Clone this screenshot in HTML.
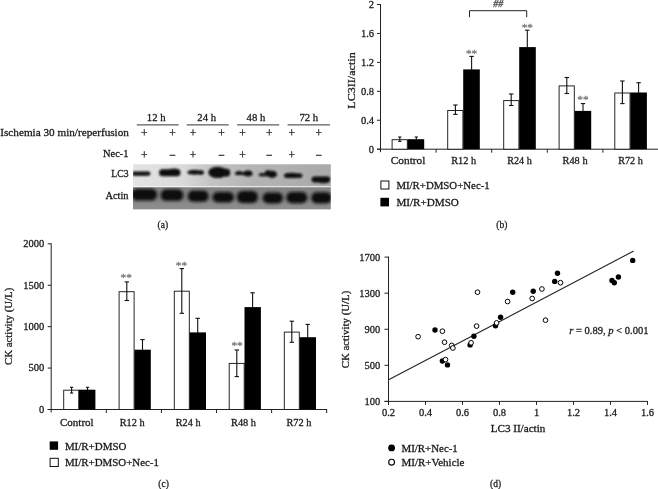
<!DOCTYPE html>
<html><head><meta charset="utf-8"><title>Figure</title>
<style>
html,body{margin:0;padding:0;background:#fff;}
body{width:658px;height:489px;overflow:hidden;font-family:"Liberation Serif",serif;}
svg{display:block;font-family:"Liberation Serif",serif;will-change:transform;-webkit-font-smoothing:antialiased;}
</style></head><body>
<svg width="658" height="489" viewBox="0 0 658 489">
<rect width="658" height="489" fill="#fff"/>
<g id="pa">
<text x="128.9" y="136" font-size="10.5" text-anchor="end" fill="#1a1a1a" stroke="#1a1a1a" stroke-width="0.28" textLength="128.6" lengthAdjust="spacingAndGlyphs">Ischemia 30 min/reperfusion</text>
<text x="128.6" y="157" font-size="10.5" text-anchor="end" fill="#1a1a1a" stroke="#1a1a1a" stroke-width="0.28" textLength="25.6" lengthAdjust="spacingAndGlyphs">Nec-1</text>
<text x="128.6" y="177.3" font-size="10.5" text-anchor="end" fill="#1a1a1a" stroke="#1a1a1a" stroke-width="0.28" textLength="17.3" lengthAdjust="spacingAndGlyphs">LC3</text>
<text x="128.6" y="198.7" font-size="10.5" text-anchor="end" fill="#1a1a1a" stroke="#1a1a1a" stroke-width="0.28" textLength="23.2" lengthAdjust="spacingAndGlyphs">Actin</text>
<line x1="136.8" y1="124.9" x2="178.6" y2="124.9" stroke="#333" stroke-width="1"/>
<text x="156.2" y="120.8" font-size="10.5" text-anchor="middle" fill="#1a1a1a" stroke="#1a1a1a" stroke-width="0.28" textLength="18.7" lengthAdjust="spacingAndGlyphs">12 h</text>
<line x1="186.7" y1="124.9" x2="228.7" y2="124.9" stroke="#333" stroke-width="1"/>
<text x="206.7" y="120.8" font-size="10.5" text-anchor="middle" fill="#1a1a1a" stroke="#1a1a1a" stroke-width="0.28" textLength="18.7" lengthAdjust="spacingAndGlyphs">24 h</text>
<line x1="237.1" y1="124.9" x2="279.2" y2="124.9" stroke="#333" stroke-width="1"/>
<text x="255.9" y="120.8" font-size="10.5" text-anchor="middle" fill="#1a1a1a" stroke="#1a1a1a" stroke-width="0.28" textLength="18.7" lengthAdjust="spacingAndGlyphs">48 h</text>
<line x1="287.6" y1="124.9" x2="330" y2="124.9" stroke="#333" stroke-width="1"/>
<text x="308.8" y="120.8" font-size="10.5" text-anchor="middle" fill="#1a1a1a" stroke="#1a1a1a" stroke-width="0.28" textLength="18.7" lengthAdjust="spacingAndGlyphs">72 h</text>
<text x="144.3" y="137" font-size="11.5" text-anchor="middle" fill="#1a1a1a" stroke="#1a1a1a" stroke-width="0.28">+</text>
<text x="144.3" y="158.6" font-size="11.5" text-anchor="middle" fill="#1a1a1a" stroke="#1a1a1a" stroke-width="0.28">+</text>
<text x="172.4" y="137" font-size="11.5" text-anchor="middle" fill="#1a1a1a" stroke="#1a1a1a" stroke-width="0.28">+</text>
<text x="172.4" y="158.6" font-size="11.5" text-anchor="middle" fill="#1a1a1a" stroke="#1a1a1a" stroke-width="0.28">−</text>
<text x="192.9" y="137" font-size="11.5" text-anchor="middle" fill="#1a1a1a" stroke="#1a1a1a" stroke-width="0.28">+</text>
<text x="192.9" y="158.6" font-size="11.5" text-anchor="middle" fill="#1a1a1a" stroke="#1a1a1a" stroke-width="0.28">+</text>
<text x="221.6" y="137" font-size="11.5" text-anchor="middle" fill="#1a1a1a" stroke="#1a1a1a" stroke-width="0.28">+</text>
<text x="221.6" y="158.6" font-size="11.5" text-anchor="middle" fill="#1a1a1a" stroke="#1a1a1a" stroke-width="0.28">−</text>
<text x="242.4" y="137" font-size="11.5" text-anchor="middle" fill="#1a1a1a" stroke="#1a1a1a" stroke-width="0.28">+</text>
<text x="242.4" y="158.6" font-size="11.5" text-anchor="middle" fill="#1a1a1a" stroke="#1a1a1a" stroke-width="0.28">+</text>
<text x="269.2" y="137" font-size="11.5" text-anchor="middle" fill="#1a1a1a" stroke="#1a1a1a" stroke-width="0.28">+</text>
<text x="269.2" y="158.6" font-size="11.5" text-anchor="middle" fill="#1a1a1a" stroke="#1a1a1a" stroke-width="0.28">−</text>
<text x="291.7" y="137" font-size="11.5" text-anchor="middle" fill="#1a1a1a" stroke="#1a1a1a" stroke-width="0.28">+</text>
<text x="291.7" y="158.6" font-size="11.5" text-anchor="middle" fill="#1a1a1a" stroke="#1a1a1a" stroke-width="0.28">+</text>
<text x="318.8" y="137" font-size="11.5" text-anchor="middle" fill="#1a1a1a" stroke="#1a1a1a" stroke-width="0.28">+</text>
<text x="318.8" y="158.6" font-size="11.5" text-anchor="middle" fill="#1a1a1a" stroke="#1a1a1a" stroke-width="0.28">−</text>
<defs>
<linearGradient id="lcbg" x1="0" x2="1" y1="0" y2="0"><stop offset="0" stop-color="#e6e6e6"/><stop offset="0.25" stop-color="#dcdcdc"/><stop offset="0.4" stop-color="#c4c4c4"/><stop offset="0.6" stop-color="#b4b4b4"/><stop offset="1" stop-color="#a8a8a8"/></linearGradient>
<linearGradient id="acbg" x1="0" x2="0" y1="0" y2="1"><stop offset="0" stop-color="#858585"/><stop offset="0.5" stop-color="#7c7c7c"/><stop offset="0.75" stop-color="#8a8a8a"/><stop offset="1" stop-color="#8e8e8e"/></linearGradient>
<filter id="b1" x="-20%" y="-50%" width="140%" height="200%"><feGaussianBlur stdDeviation="0.95"/></filter>
<filter id="b2" x="-20%" y="-50%" width="140%" height="200%"><feGaussianBlur stdDeviation="1.7"/></filter>
<filter id="noise" x="0" y="0" width="100%" height="100%"><feTurbulence type="fractalNoise" baseFrequency="0.9" numOctaves="2" seed="3" result="n"/><feColorMatrix in="n" type="matrix" values="0 0 0 0 0.5  0 0 0 0 0.5  0 0 0 0 0.5  0.9 0 0 0 -0.38"/></filter>
<clipPath id="clc"><rect x="133" y="164.3" width="197.8" height="22"/></clipPath>
<clipPath id="cac"><rect x="133" y="187.2" width="197.8" height="22.2"/></clipPath>
</defs>
<rect x="133" y="164.3" width="197.8" height="22" fill="url(#lcbg)"/>
<rect x="133" y="164.3" width="197.8" height="22" filter="url(#noise)" opacity="0.6"/>
<rect x="133" y="187.2" width="197.8" height="22.2" fill="url(#acbg)"/>
<g clip-path="url(#clc)" filter="url(#b1)" fill="#080808">
<rect x="132" y="171.4" width="18.4" height="4.4" rx="2.200000000000003" ry="2.200000000000003"/>
<rect x="159.2" y="169.2" width="21.2" height="7.0" rx="3.2" ry="3.2"/>
<ellipse cx="174" cy="171.6" rx="6" ry="3.2"/>
<rect x="187.6" y="170.6" width="16.0" height="3.6" rx="1.7999999999999972" ry="1.7999999999999972"/>
<ellipse cx="194.5" cy="172.2" rx="4.2" ry="2.4"/>
<ellipse cx="200.8" cy="172.6" rx="3" ry="2.2"/>
<ellipse cx="217.6" cy="172.4" rx="9.2" ry="5.7"/>
<rect x="212" y="168.8" width="18.2" height="7.8" rx="3.9" ry="3.9"/>
<rect x="235" y="172.2" width="17.4" height="2.8" rx="1.4000000000000057" ry="1.4000000000000057"/>
<ellipse cx="248" cy="173.4" rx="4.4" ry="2.9"/>
<ellipse cx="239" cy="172.8" rx="3" ry="1.9"/>
<rect x="258.8" y="173.2" width="17.8" height="3.0" rx="1.5" ry="1.5"/>
<ellipse cx="272" cy="174.3" rx="4.9" ry="3.6"/>
<ellipse cx="268" cy="172.2" rx="3" ry="2"/>
<rect x="284" y="173.5" width="18.4" height="4.3" rx="2.1500000000000057" ry="2.1500000000000057"/>
<ellipse cx="291.5" cy="175.4" rx="7" ry="2.7"/>
<rect x="311.6" y="176.6" width="18.6" height="5.8" rx="2.9" ry="2.9"/>
<ellipse cx="323.5" cy="180" rx="6.2" ry="3.2"/>
</g>
<g clip-path="url(#cac)" filter="url(#b2)" fill="#101010">
<rect x="131.4" y="188.8" width="25.6" height="11.6" rx="5.5" ry="5.3"/>
<rect x="160.8" y="189.2" width="22.4" height="11.6" rx="5.5" ry="5.3"/>
<rect x="187.9" y="190.6" width="20.6" height="11.2" rx="5.5" ry="5.1"/>
<rect x="212.6" y="192.0" width="21.2" height="10.4" rx="5.5" ry="4.7"/>
<rect x="237.0" y="191" width="20.8" height="12" rx="5.5" ry="5.5"/>
<rect x="262.8" y="192.6" width="20" height="10.8" rx="5.5" ry="4.9"/>
<rect x="286.4" y="192.0" width="20.8" height="11.2" rx="5.5" ry="5.1"/>
<rect x="311.4" y="192.2" width="20" height="11.2" rx="5.5" ry="5.1"/>
</g>
<text x="162.8" y="228.3" font-size="10" text-anchor="middle" fill="#1a1a1a" stroke="#1a1a1a" stroke-width="0.28" textLength="10.5" lengthAdjust="spacingAndGlyphs">(a)</text>
</g>
<g id="pb">
<line x1="380.5" y1="4.0" x2="380.5" y2="152.2" stroke="#222" stroke-width="1"/>
<line x1="377.0" y1="149.2" x2="658" y2="149.2" stroke="#222" stroke-width="1"/>
<line x1="377.0" y1="149.2" x2="380.5" y2="149.2" stroke="#222" stroke-width="1"/>
<text x="374" y="152.6" font-size="10.5" text-anchor="end" fill="#1a1a1a" stroke="#1a1a1a" stroke-width="0.28">0</text>
<line x1="377.0" y1="120.25999999999999" x2="380.5" y2="120.25999999999999" stroke="#222" stroke-width="1"/>
<text x="374" y="123.66" font-size="10.5" text-anchor="end" fill="#1a1a1a" stroke="#1a1a1a" stroke-width="0.28">0.4</text>
<line x1="377.0" y1="91.32" x2="380.5" y2="91.32" stroke="#222" stroke-width="1"/>
<text x="374" y="94.72" font-size="10.5" text-anchor="end" fill="#1a1a1a" stroke="#1a1a1a" stroke-width="0.28">0.8</text>
<line x1="377.0" y1="62.379999999999995" x2="380.5" y2="62.379999999999995" stroke="#222" stroke-width="1"/>
<text x="374" y="65.78" font-size="10.5" text-anchor="end" fill="#1a1a1a" stroke="#1a1a1a" stroke-width="0.28">1.2</text>
<line x1="377.0" y1="33.44" x2="380.5" y2="33.44" stroke="#222" stroke-width="1"/>
<text x="374" y="36.839999999999996" font-size="10.5" text-anchor="end" fill="#1a1a1a" stroke="#1a1a1a" stroke-width="0.28">1.6</text>
<line x1="377.0" y1="4.5" x2="380.5" y2="4.5" stroke="#222" stroke-width="1"/>
<text x="374" y="7.9" font-size="10.5" text-anchor="end" fill="#1a1a1a" stroke="#1a1a1a" stroke-width="0.28">2</text>
<line x1="436.1" y1="149.2" x2="436.1" y2="152.7" stroke="#222" stroke-width="1"/>
<line x1="491.7" y1="149.2" x2="491.7" y2="152.7" stroke="#222" stroke-width="1"/>
<line x1="547.3" y1="149.2" x2="547.3" y2="152.7" stroke="#222" stroke-width="1"/>
<line x1="602.9" y1="149.2" x2="602.9" y2="152.7" stroke="#222" stroke-width="1"/>
<line x1="658.5" y1="149.2" x2="658.5" y2="152.7" stroke="#222" stroke-width="1"/>
<rect x="392.1" y="139.7" width="15.2" height="9.5" fill="#fff" stroke="#1c1c1c" stroke-width="0.95"/>
<rect x="407.6" y="139.2" width="16.599999999999998" height="10.0" fill="#000" stroke="none" stroke-width="0"/>
<rect x="447.7" y="110.5" width="15.2" height="38.69999999999999" fill="#fff" stroke="#1c1c1c" stroke-width="0.95"/>
<rect x="463.2" y="69.4" width="16.599999999999998" height="79.79999999999998" fill="#000" stroke="none" stroke-width="0"/>
<rect x="503.7" y="100.6" width="15.2" height="48.599999999999994" fill="#fff" stroke="#1c1c1c" stroke-width="0.95"/>
<rect x="519.1999999999999" y="47.1" width="16.599999999999998" height="102.1" fill="#000" stroke="none" stroke-width="0"/>
<rect x="559.1" y="85.9" width="15.2" height="63.29999999999998" fill="#fff" stroke="#1c1c1c" stroke-width="0.95"/>
<rect x="574.6" y="110.9" width="16.599999999999998" height="38.29999999999998" fill="#000" stroke="none" stroke-width="0"/>
<rect x="614.8" y="93.0" width="15.2" height="56.19999999999999" fill="#fff" stroke="#1c1c1c" stroke-width="0.95"/>
<rect x="630.3" y="92.5" width="16.599999999999998" height="56.69999999999999" fill="#000" stroke="none" stroke-width="0"/>
<line x1="399.8" y1="137" x2="399.8" y2="141.4" stroke="#111" stroke-width="1.1"/>
<line x1="398.2" y1="137" x2="401.40000000000003" y2="137" stroke="#111" stroke-width="1.1"/>
<line x1="398.2" y1="141.4" x2="401.40000000000003" y2="141.4" stroke="#111" stroke-width="1.1"/>
<line x1="416.3" y1="137" x2="416.3" y2="139.5" stroke="#111" stroke-width="1.1"/>
<line x1="414.7" y1="137" x2="417.90000000000003" y2="137" stroke="#111" stroke-width="1.1"/>
<line x1="455.4" y1="105" x2="455.4" y2="114.4" stroke="#111" stroke-width="1.1"/>
<line x1="453.2" y1="105" x2="457.59999999999997" y2="105" stroke="#111" stroke-width="1.1"/>
<line x1="453.2" y1="114.4" x2="457.59999999999997" y2="114.4" stroke="#111" stroke-width="1.1"/>
<line x1="471.6" y1="56.4" x2="471.6" y2="70" stroke="#111" stroke-width="1.1"/>
<line x1="469.40000000000003" y1="56.4" x2="473.8" y2="56.4" stroke="#111" stroke-width="1.1"/>
<line x1="511.2" y1="94" x2="511.2" y2="105.5" stroke="#111" stroke-width="1.1"/>
<line x1="509.0" y1="94" x2="513.4" y2="94" stroke="#111" stroke-width="1.1"/>
<line x1="509.0" y1="105.5" x2="513.4" y2="105.5" stroke="#111" stroke-width="1.1"/>
<line x1="527.3" y1="30.2" x2="527.3" y2="48" stroke="#111" stroke-width="1.1"/>
<line x1="525.0999999999999" y1="30.2" x2="529.5" y2="30.2" stroke="#111" stroke-width="1.1"/>
<line x1="566.8" y1="77.5" x2="566.8" y2="93.5" stroke="#111" stroke-width="1.1"/>
<line x1="564.5999999999999" y1="77.5" x2="569.0" y2="77.5" stroke="#111" stroke-width="1.1"/>
<line x1="564.5999999999999" y1="93.5" x2="569.0" y2="93.5" stroke="#111" stroke-width="1.1"/>
<line x1="583" y1="103.6" x2="583" y2="111" stroke="#111" stroke-width="1.1"/>
<line x1="580.8" y1="103.6" x2="585.2" y2="103.6" stroke="#111" stroke-width="1.1"/>
<line x1="622.4" y1="81" x2="622.4" y2="103.6" stroke="#111" stroke-width="1.1"/>
<line x1="620.1999999999999" y1="81" x2="624.6" y2="81" stroke="#111" stroke-width="1.1"/>
<line x1="620.1999999999999" y1="103.6" x2="624.6" y2="103.6" stroke="#111" stroke-width="1.1"/>
<line x1="638.6" y1="82.7" x2="638.6" y2="93" stroke="#111" stroke-width="1.1"/>
<line x1="636.4" y1="82.7" x2="640.8000000000001" y2="82.7" stroke="#111" stroke-width="1.1"/>
<polyline points="469.5,17.2 469.5,10.7 526.7,10.7 526.7,17.2" fill="none" stroke="#222" stroke-width="1"/>
<text x="498.2" y="7.4" font-size="10" text-anchor="middle" fill="#444" stroke="#444" stroke-width="0.28" font-style="italic">##</text>
<text x="471.6" y="56.900000000000006" font-size="11.3" text-anchor="middle" fill="#7a7a7a" stroke="#7a7a7a" stroke-width="0.28">**</text>
<text x="527.3" y="31.0" font-size="11.3" text-anchor="middle" fill="#7a7a7a" stroke="#7a7a7a" stroke-width="0.28">**</text>
<text x="583" y="103.2" font-size="11.3" text-anchor="middle" fill="#7a7a7a" stroke="#7a7a7a" stroke-width="0.28">**</text>
<text x="390.8" y="164.4" font-size="10.5" text-anchor="start" fill="#1a1a1a" stroke="#1a1a1a" stroke-width="0.28" textLength="34.6" lengthAdjust="spacingAndGlyphs">Control</text>
<text x="451.2" y="164.4" font-size="10.5" text-anchor="start" fill="#1a1a1a" stroke="#1a1a1a" stroke-width="0.28" textLength="25.0" lengthAdjust="spacingAndGlyphs">R12 h</text>
<text x="507.3" y="164.4" font-size="10.5" text-anchor="start" fill="#1a1a1a" stroke="#1a1a1a" stroke-width="0.28" textLength="24.5" lengthAdjust="spacingAndGlyphs">R24 h</text>
<text x="562.5" y="164.4" font-size="10.5" text-anchor="start" fill="#1a1a1a" stroke="#1a1a1a" stroke-width="0.28" textLength="25.1" lengthAdjust="spacingAndGlyphs">R48 h</text>
<text x="618.2" y="164.4" font-size="10.5" text-anchor="start" fill="#1a1a1a" stroke="#1a1a1a" stroke-width="0.28" textLength="24.6" lengthAdjust="spacingAndGlyphs">R72 h</text>
<text transform="translate(354.6,80.5) rotate(-90)" font-size="10.5" text-anchor="middle" fill="#1a1a1a" stroke="#1a1a1a" stroke-width="0.28" textLength="56.5" lengthAdjust="spacingAndGlyphs">LC3II/actin</text>
<rect x="380.9" y="181" width="8" height="8" fill="#fff" stroke="#111" stroke-width="1"/>
<text x="396.4" y="188.8" font-size="10.5" text-anchor="start" fill="#1a1a1a" stroke="#1a1a1a" stroke-width="0.28" textLength="93.3" lengthAdjust="spacingAndGlyphs">MI/R+DMSO+Nec-1</text>
<rect x="380.4" y="197.8" width="8.6" height="8.6" fill="#000" stroke="none" stroke-width="0"/>
<text x="396.4" y="205.9" font-size="10.5" text-anchor="start" fill="#1a1a1a" stroke="#1a1a1a" stroke-width="0.28" textLength="62.5" lengthAdjust="spacingAndGlyphs">MI/R+DMSO</text>
<text x="501.8" y="227.5" font-size="10" text-anchor="middle" fill="#1a1a1a" stroke="#1a1a1a" stroke-width="0.28" textLength="11" lengthAdjust="spacingAndGlyphs">(b)</text>
</g>
<g id="pc">
<line x1="51.2" y1="243.3" x2="51.2" y2="412.5" stroke="#222" stroke-width="1"/>
<line x1="47.7" y1="409.5" x2="327" y2="409.5" stroke="#222" stroke-width="1"/>
<line x1="47.7" y1="409.5" x2="51.2" y2="409.5" stroke="#222" stroke-width="1"/>
<text x="44.2" y="412.9" font-size="10.5" text-anchor="end" fill="#1a1a1a" stroke="#1a1a1a" stroke-width="0.28">0</text>
<line x1="47.7" y1="368.075" x2="51.2" y2="368.075" stroke="#222" stroke-width="1"/>
<text x="44.2" y="371.47499999999997" font-size="10.5" text-anchor="end" fill="#1a1a1a" stroke="#1a1a1a" stroke-width="0.28">500</text>
<line x1="47.7" y1="326.65" x2="51.2" y2="326.65" stroke="#222" stroke-width="1"/>
<text x="44.2" y="330.04999999999995" font-size="10.5" text-anchor="end" fill="#1a1a1a" stroke="#1a1a1a" stroke-width="0.28">1000</text>
<line x1="47.7" y1="285.225" x2="51.2" y2="285.225" stroke="#222" stroke-width="1"/>
<text x="44.2" y="288.625" font-size="10.5" text-anchor="end" fill="#1a1a1a" stroke="#1a1a1a" stroke-width="0.28">1500</text>
<line x1="47.7" y1="243.8" x2="51.2" y2="243.8" stroke="#222" stroke-width="1"/>
<text x="44.2" y="247.20000000000002" font-size="10.5" text-anchor="end" fill="#1a1a1a" stroke="#1a1a1a" stroke-width="0.28">2000</text>
<line x1="106.30000000000001" y1="409.5" x2="106.30000000000001" y2="413.0" stroke="#222" stroke-width="1"/>
<line x1="161.4" y1="409.5" x2="161.4" y2="413.0" stroke="#222" stroke-width="1"/>
<line x1="216.5" y1="409.5" x2="216.5" y2="413.0" stroke="#222" stroke-width="1"/>
<line x1="271.6" y1="409.5" x2="271.6" y2="413.0" stroke="#222" stroke-width="1"/>
<line x1="326.7" y1="409.5" x2="326.7" y2="413.0" stroke="#222" stroke-width="1"/>
<rect x="63.7" y="390.2" width="15.0" height="19.30000000000001" fill="#fff" stroke="#1c1c1c" stroke-width="0.95"/>
<rect x="79.0" y="389.7" width="16.4" height="19.80000000000001" fill="#000" stroke="none" stroke-width="0"/>
<rect x="119.1" y="291.7" width="15.0" height="117.80000000000001" fill="#fff" stroke="#1c1c1c" stroke-width="0.95"/>
<rect x="134.4" y="349.7" width="16.4" height="59.80000000000001" fill="#000" stroke="none" stroke-width="0"/>
<rect x="174.3" y="291.2" width="15.0" height="118.30000000000001" fill="#fff" stroke="#1c1c1c" stroke-width="0.95"/>
<rect x="189.60000000000002" y="332.4" width="16.4" height="77.10000000000002" fill="#000" stroke="none" stroke-width="0"/>
<rect x="229.2" y="363.4" width="15.0" height="46.10000000000002" fill="#fff" stroke="#1c1c1c" stroke-width="0.95"/>
<rect x="244.5" y="307.1" width="16.4" height="102.39999999999998" fill="#000" stroke="none" stroke-width="0"/>
<rect x="284.3" y="332.1" width="15.0" height="77.39999999999998" fill="#fff" stroke="#1c1c1c" stroke-width="0.95"/>
<rect x="299.6" y="337.2" width="16.4" height="72.30000000000001" fill="#000" stroke="none" stroke-width="0"/>
<line x1="71.6" y1="387.3" x2="71.6" y2="393" stroke="#111" stroke-width="1.1"/>
<line x1="70.0" y1="387.3" x2="73.19999999999999" y2="387.3" stroke="#111" stroke-width="1.1"/>
<line x1="70.0" y1="393" x2="73.19999999999999" y2="393" stroke="#111" stroke-width="1.1"/>
<line x1="87.5" y1="387.3" x2="87.5" y2="390" stroke="#111" stroke-width="1.1"/>
<line x1="85.9" y1="387.3" x2="89.1" y2="387.3" stroke="#111" stroke-width="1.1"/>
<line x1="126.8" y1="281.9" x2="126.8" y2="300.5" stroke="#111" stroke-width="1.1"/>
<line x1="124.6" y1="281.9" x2="129.0" y2="281.9" stroke="#111" stroke-width="1.1"/>
<line x1="124.6" y1="300.5" x2="129.0" y2="300.5" stroke="#111" stroke-width="1.1"/>
<line x1="142.5" y1="339.6" x2="142.5" y2="350" stroke="#111" stroke-width="1.1"/>
<line x1="140.3" y1="339.6" x2="144.7" y2="339.6" stroke="#111" stroke-width="1.1"/>
<line x1="181.8" y1="268.6" x2="181.8" y2="313.3" stroke="#111" stroke-width="1.1"/>
<line x1="179.60000000000002" y1="268.6" x2="184.0" y2="268.6" stroke="#111" stroke-width="1.1"/>
<line x1="179.60000000000002" y1="313.3" x2="184.0" y2="313.3" stroke="#111" stroke-width="1.1"/>
<line x1="197.7" y1="318.3" x2="197.7" y2="333" stroke="#111" stroke-width="1.1"/>
<line x1="195.5" y1="318.3" x2="199.89999999999998" y2="318.3" stroke="#111" stroke-width="1.1"/>
<line x1="236.8" y1="350" x2="236.8" y2="376.6" stroke="#111" stroke-width="1.1"/>
<line x1="234.60000000000002" y1="350" x2="239.0" y2="350" stroke="#111" stroke-width="1.1"/>
<line x1="234.60000000000002" y1="376.6" x2="239.0" y2="376.6" stroke="#111" stroke-width="1.1"/>
<line x1="252.6" y1="292.8" x2="252.6" y2="308" stroke="#111" stroke-width="1.1"/>
<line x1="250.4" y1="292.8" x2="254.79999999999998" y2="292.8" stroke="#111" stroke-width="1.1"/>
<line x1="291.8" y1="321.2" x2="291.8" y2="342.3" stroke="#111" stroke-width="1.1"/>
<line x1="289.6" y1="321.2" x2="294.0" y2="321.2" stroke="#111" stroke-width="1.1"/>
<line x1="289.6" y1="342.3" x2="294.0" y2="342.3" stroke="#111" stroke-width="1.1"/>
<line x1="307.7" y1="324.4" x2="307.7" y2="338" stroke="#111" stroke-width="1.1"/>
<line x1="305.5" y1="324.4" x2="309.9" y2="324.4" stroke="#111" stroke-width="1.1"/>
<text x="126.2" y="281.3" font-size="11.3" text-anchor="middle" fill="#7a7a7a" stroke="#7a7a7a" stroke-width="0.28">**</text>
<text x="181.4" y="268.7" font-size="11.3" text-anchor="middle" fill="#7a7a7a" stroke="#7a7a7a" stroke-width="0.28">**</text>
<text x="237.1" y="348.7" font-size="11.3" text-anchor="middle" fill="#7a7a7a" stroke="#7a7a7a" stroke-width="0.28">**</text>
<text x="60" y="426.2" font-size="10.5" text-anchor="start" fill="#1a1a1a" stroke="#1a1a1a" stroke-width="0.28" textLength="33.6" lengthAdjust="spacingAndGlyphs">Control</text>
<text x="119.7" y="426.2" font-size="10.5" text-anchor="start" fill="#1a1a1a" stroke="#1a1a1a" stroke-width="0.28" textLength="25.0" lengthAdjust="spacingAndGlyphs">R12 h</text>
<text x="175.8" y="426.2" font-size="10.5" text-anchor="start" fill="#1a1a1a" stroke="#1a1a1a" stroke-width="0.28" textLength="24.7" lengthAdjust="spacingAndGlyphs">R24 h</text>
<text x="231" y="426.2" font-size="10.5" text-anchor="start" fill="#1a1a1a" stroke="#1a1a1a" stroke-width="0.28" textLength="25" lengthAdjust="spacingAndGlyphs">R48 h</text>
<text x="286.4" y="426.2" font-size="10.5" text-anchor="start" fill="#1a1a1a" stroke="#1a1a1a" stroke-width="0.28" textLength="25.0" lengthAdjust="spacingAndGlyphs">R72 h</text>
<text transform="translate(11.5,326.4) rotate(-90)" font-size="10.5" text-anchor="middle" fill="#1a1a1a" stroke="#1a1a1a" stroke-width="0.28" textLength="77.3" lengthAdjust="spacingAndGlyphs">CK activity (U/L)</text>
<rect x="49.7" y="441.4" width="8.4" height="8.4" fill="#000" stroke="none" stroke-width="0"/>
<text x="64.9" y="449.7" font-size="10.5" text-anchor="start" fill="#1a1a1a" stroke="#1a1a1a" stroke-width="0.28" textLength="61.5" lengthAdjust="spacingAndGlyphs">MI/R+DMSO</text>
<rect x="50.1" y="458.3" width="8.2" height="8.2" fill="#fff" stroke="#111" stroke-width="1"/>
<text x="64.9" y="466" font-size="10.5" text-anchor="start" fill="#1a1a1a" stroke="#1a1a1a" stroke-width="0.28" textLength="94" lengthAdjust="spacingAndGlyphs">MI/R+DMSO+Nec-1</text>
<text x="163.6" y="486.5" font-size="10" text-anchor="middle" fill="#1a1a1a" stroke="#1a1a1a" stroke-width="0.28" textLength="10.5" lengthAdjust="spacingAndGlyphs">(c)</text>
</g>
<g id="pd">
<line x1="388.5" y1="256.6" x2="388.5" y2="404.9" stroke="#222" stroke-width="1"/>
<line x1="384.5" y1="401.4" x2="648" y2="401.4" stroke="#222" stroke-width="1"/>
<line x1="384.5" y1="401.4" x2="388.5" y2="401.4" stroke="#222" stroke-width="1"/>
<text x="380.2" y="404.79999999999995" font-size="10.5" text-anchor="end" fill="#1a1a1a" stroke="#1a1a1a" stroke-width="0.28">100</text>
<line x1="384.5" y1="365.325" x2="388.5" y2="365.325" stroke="#222" stroke-width="1"/>
<text x="380.2" y="368.72499999999997" font-size="10.5" text-anchor="end" fill="#1a1a1a" stroke="#1a1a1a" stroke-width="0.28">500</text>
<line x1="384.5" y1="329.25" x2="388.5" y2="329.25" stroke="#222" stroke-width="1"/>
<text x="380.2" y="332.65" font-size="10.5" text-anchor="end" fill="#1a1a1a" stroke="#1a1a1a" stroke-width="0.28">900</text>
<line x1="384.5" y1="293.175" x2="388.5" y2="293.175" stroke="#222" stroke-width="1"/>
<text x="380.2" y="296.575" font-size="10.5" text-anchor="end" fill="#1a1a1a" stroke="#1a1a1a" stroke-width="0.28">1300</text>
<line x1="384.5" y1="257.1" x2="388.5" y2="257.1" stroke="#222" stroke-width="1"/>
<text x="380.2" y="260.5" font-size="10.5" text-anchor="end" fill="#1a1a1a" stroke="#1a1a1a" stroke-width="0.28">1700</text>
<line x1="388.5" y1="401.4" x2="388.5" y2="404.9" stroke="#222" stroke-width="1"/>
<text x="388.5" y="415.5" font-size="10.5" text-anchor="middle" fill="#1a1a1a" stroke="#1a1a1a" stroke-width="0.28">0.2</text>
<line x1="425.5" y1="401.4" x2="425.5" y2="404.9" stroke="#222" stroke-width="1"/>
<text x="425.5" y="415.5" font-size="10.5" text-anchor="middle" fill="#1a1a1a" stroke="#1a1a1a" stroke-width="0.28">0.4</text>
<line x1="462.5" y1="401.4" x2="462.5" y2="404.9" stroke="#222" stroke-width="1"/>
<text x="462.5" y="415.5" font-size="10.5" text-anchor="middle" fill="#1a1a1a" stroke="#1a1a1a" stroke-width="0.28">0.6</text>
<line x1="499.5" y1="401.4" x2="499.5" y2="404.9" stroke="#222" stroke-width="1"/>
<text x="499.5" y="415.5" font-size="10.5" text-anchor="middle" fill="#1a1a1a" stroke="#1a1a1a" stroke-width="0.28">0.8</text>
<line x1="536.5" y1="401.4" x2="536.5" y2="404.9" stroke="#222" stroke-width="1"/>
<text x="536.5" y="415.5" font-size="10.5" text-anchor="middle" fill="#1a1a1a" stroke="#1a1a1a" stroke-width="0.28">1</text>
<line x1="573.5" y1="401.4" x2="573.5" y2="404.9" stroke="#222" stroke-width="1"/>
<text x="573.5" y="415.5" font-size="10.5" text-anchor="middle" fill="#1a1a1a" stroke="#1a1a1a" stroke-width="0.28">1.2</text>
<line x1="610.5" y1="401.4" x2="610.5" y2="404.9" stroke="#222" stroke-width="1"/>
<text x="610.5" y="415.5" font-size="10.5" text-anchor="middle" fill="#1a1a1a" stroke="#1a1a1a" stroke-width="0.28">1.4</text>
<line x1="647.5" y1="401.4" x2="647.5" y2="404.9" stroke="#222" stroke-width="1"/>
<text x="647.5" y="415.5" font-size="10.5" text-anchor="middle" fill="#1a1a1a" stroke="#1a1a1a" stroke-width="0.28">1.6</text>
<line x1="388.6" y1="379.8" x2="633.7" y2="251" stroke="#222" stroke-width="1.1"/>
<circle cx="435" cy="330" r="2.7" fill="#000"/>
<circle cx="442.4" cy="361" r="2.7" fill="#000"/>
<circle cx="447.5" cy="364.9" r="2.7" fill="#000"/>
<circle cx="470.1" cy="344.9" r="2.7" fill="#000"/>
<circle cx="473.9" cy="336.3" r="2.7" fill="#000"/>
<circle cx="495.5" cy="325.7" r="2.7" fill="#000"/>
<circle cx="500.6" cy="317.3" r="2.7" fill="#000"/>
<circle cx="512.7" cy="292.2" r="2.7" fill="#000"/>
<circle cx="533.2" cy="291.3" r="2.7" fill="#000"/>
<circle cx="554.7" cy="281.4" r="2.7" fill="#000"/>
<circle cx="557.5" cy="273.2" r="2.7" fill="#000"/>
<circle cx="612" cy="280.4" r="2.7" fill="#000"/>
<circle cx="614.3" cy="282.7" r="2.7" fill="#000"/>
<circle cx="618.4" cy="277" r="2.7" fill="#000"/>
<circle cx="632.7" cy="260.4" r="2.7" fill="#000"/>
<circle cx="418.1" cy="336.7" r="2.35" fill="#fff" stroke="#000" stroke-width="1"/>
<circle cx="442.4" cy="331.2" r="2.35" fill="#fff" stroke="#000" stroke-width="1"/>
<circle cx="444.5" cy="342.2" r="2.35" fill="#fff" stroke="#000" stroke-width="1"/>
<circle cx="451.7" cy="345.4" r="2.35" fill="#fff" stroke="#000" stroke-width="1"/>
<circle cx="452.9" cy="348" r="2.35" fill="#fff" stroke="#000" stroke-width="1"/>
<circle cx="445.5" cy="359.6" r="2.35" fill="#fff" stroke="#000" stroke-width="1"/>
<circle cx="471.1" cy="342.8" r="2.35" fill="#fff" stroke="#000" stroke-width="1"/>
<circle cx="476.6" cy="326.1" r="2.35" fill="#fff" stroke="#000" stroke-width="1"/>
<circle cx="477.5" cy="292.2" r="2.35" fill="#fff" stroke="#000" stroke-width="1"/>
<circle cx="496.6" cy="322.9" r="2.35" fill="#fff" stroke="#000" stroke-width="1"/>
<circle cx="507.6" cy="301.5" r="2.35" fill="#fff" stroke="#000" stroke-width="1"/>
<circle cx="532.2" cy="298.5" r="2.35" fill="#fff" stroke="#000" stroke-width="1"/>
<circle cx="541.9" cy="289" r="2.35" fill="#fff" stroke="#000" stroke-width="1"/>
<circle cx="560.5" cy="282.7" r="2.35" fill="#fff" stroke="#000" stroke-width="1"/>
<circle cx="545.5" cy="320.2" r="2.35" fill="#fff" stroke="#000" stroke-width="1"/>
<text x="569.2" y="334" font-size="10.5" text-anchor="start" fill="#1a1a1a" stroke="#1a1a1a" stroke-width="0.28" textLength="79.3" lengthAdjust="spacingAndGlyphs"><tspan font-style="italic">r</tspan> = 0.89, <tspan font-style="italic">p</tspan> &lt; 0.001</text>
<text x="518" y="432" font-size="10.5" text-anchor="middle" fill="#1a1a1a" stroke="#1a1a1a" stroke-width="0.28" textLength="54.6" lengthAdjust="spacingAndGlyphs">LC3 II/actin</text>
<text transform="translate(349.3,329.5) rotate(-90)" font-size="10.5" text-anchor="middle" fill="#1a1a1a" stroke="#1a1a1a" stroke-width="0.28" textLength="77.5" lengthAdjust="spacingAndGlyphs">CK activity (U/L)</text>
<circle cx="391.6" cy="447.9" r="3.4" fill="#000"/>
<text x="401.5" y="451.6" font-size="10.5" text-anchor="start" fill="#1a1a1a" stroke="#1a1a1a" stroke-width="0.28" textLength="56.3" lengthAdjust="spacingAndGlyphs">MI/R+Nec-1</text>
<circle cx="391.6" cy="462.2" r="2.9" fill="#fff" stroke="#000" stroke-width="1.1"/>
<text x="401.5" y="465.7" font-size="10.5" text-anchor="start" fill="#1a1a1a" stroke="#1a1a1a" stroke-width="0.28" textLength="63" lengthAdjust="spacingAndGlyphs">MI/R+Vehicle</text>
<text x="495.6" y="486.5" font-size="10" text-anchor="middle" fill="#1a1a1a" stroke="#1a1a1a" stroke-width="0.28" textLength="11" lengthAdjust="spacingAndGlyphs">(d)</text>
</g>
</svg>
</body></html>
